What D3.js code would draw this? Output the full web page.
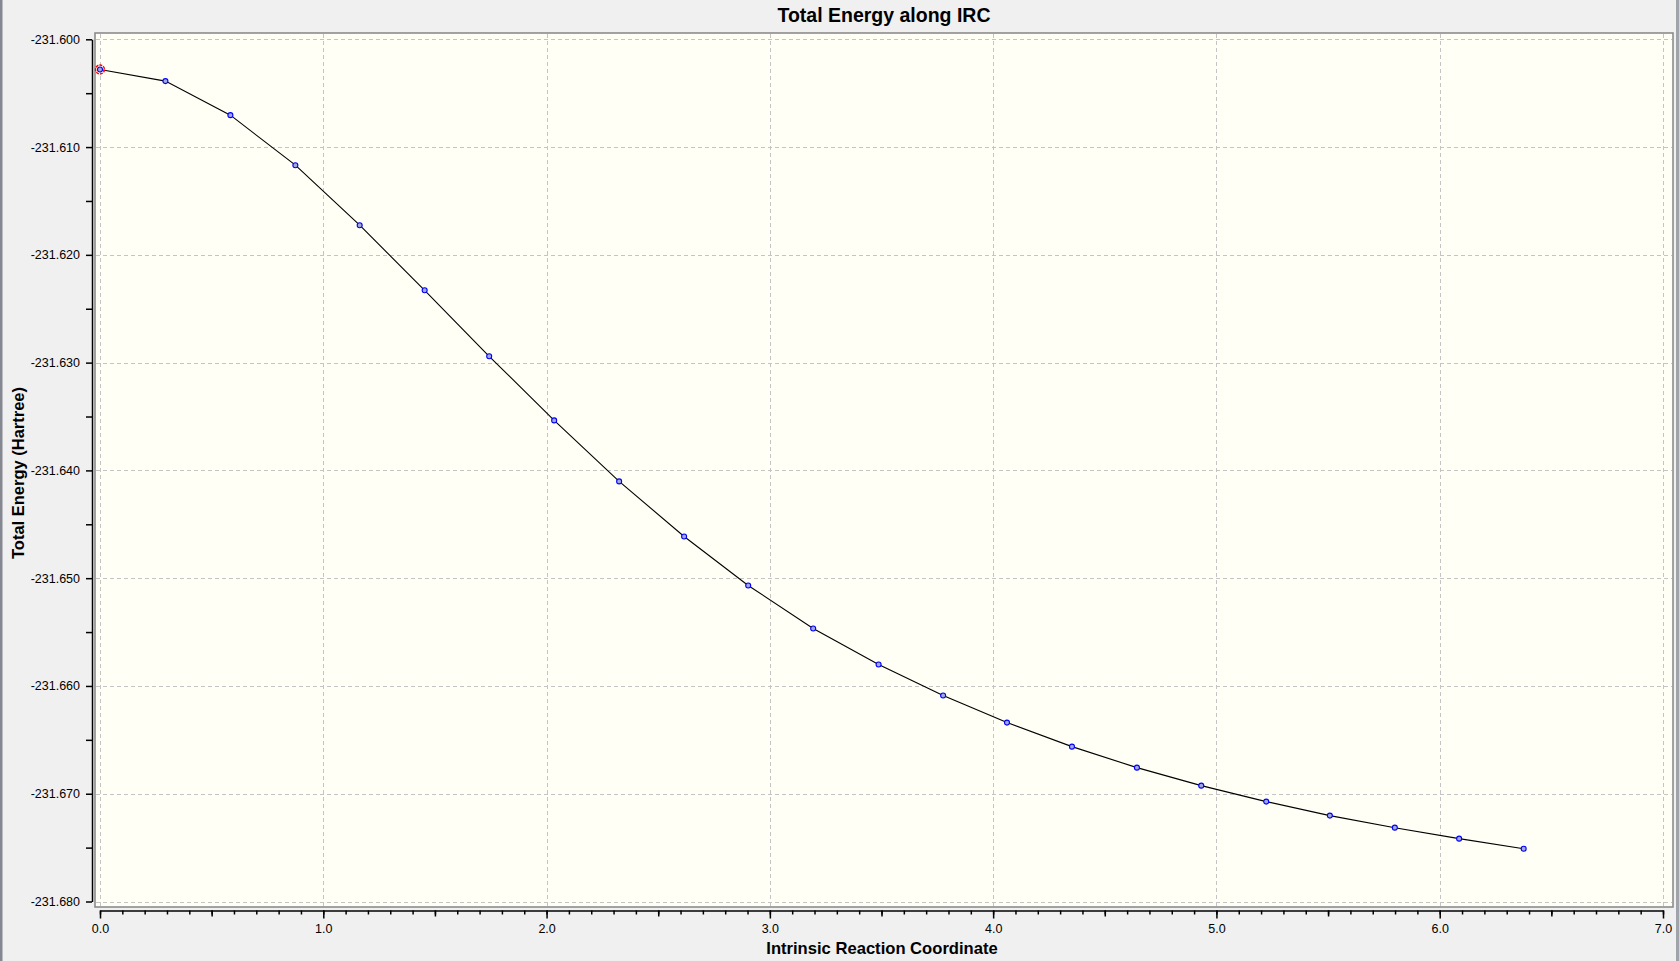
<!DOCTYPE html>
<html>
<head>
<meta charset="utf-8">
<title>Total Energy along IRC</title>
<script src="https://cdn.jsdelivr.net/npm/d3@7"></script>
<style>
  body { margin: 0; background: #f0f0f0; overflow: hidden; }
  svg { display: block; font-family: "Liberation Sans", Arial, sans-serif; }
  .tick text { font-size: 12.5px; fill: #000; }
  .tick line { stroke: #000; }
  .domain { stroke: #000; }
</style>
</head>
<body>
<div id="chart"></div>
<script>
// IRC points
const irc = [0.000, 0.293, 0.584, 0.875, 1.163, 1.454, 1.743, 2.034, 2.325, 2.616, 2.903, 3.194,
  3.487, 3.776, 4.062, 4.353, 4.644, 4.932, 5.223, 5.508, 5.799, 6.087, 6.376];
const energy = [-231.60280, -231.60388, -231.60704, -231.61168, -231.61725, -231.62329, -231.62941,
  -231.63536, -231.64102, -231.64613, -231.65068, -231.65467, -231.65801, -231.66089, -231.66340,
  -231.66563, -231.66758, -231.66925, -231.67073, -231.67203, -231.67315, -231.67417, -231.67510];

const xMajor = [0, 1, 2, 3, 4, 5, 6, 7];
const yMajor = [-231.600, -231.610, -231.620, -231.630, -231.640, -231.650, -231.660, -231.670, -231.680];

const W = 1679, H = 961;

// plot frame and axis positions
const frame = { left: 95, top: 33, right: 1673, bottom: 907 };
const xAxisY = 910.5, yAxisX = 92;

const x = d3.scaleLinear().domain([0, 7]).range([100, 1663]);
const y = d3.scaleLinear().domain([-231.680, -231.600]).range([901.5, 39.3]);

const svg = d3.select('#chart').append('svg')
  .attr('width', W)
  .attr('height', H);

svg.append('rect').attr('width', W).attr('height', H).attr('fill', '#f0f0f0');

// window edges
svg.append('rect').attr('x', 0).attr('y', 0).attr('width', 2.5).attr('height', H).attr('fill', '#858891');
svg.append('rect').attr('x', 1676).attr('y', 0).attr('width', 3).attr('height', H).attr('fill', '#a0a3aa');

// plot background
svg.append('rect')
  .attr('x', frame.left).attr('y', frame.top)
  .attr('width', frame.right - frame.left).attr('height', frame.bottom - frame.top)
  .attr('fill', '#fffff6');

// grid
const grid = svg.append('g')
  .attr('stroke', '#c4c4c4')
  .attr('stroke-width', 1)
  .attr('stroke-dasharray', '4,3');

grid.selectAll('.vg').data(xMajor).enter().append('line')
  .attr('x1', d => Math.round(x(d)) + 0.5).attr('x2', d => Math.round(x(d)) + 0.5)
  .attr('y1', frame.top + 1).attr('y2', frame.bottom - 1);

grid.selectAll('.hg').data(yMajor).enter().append('line')
  .attr('y1', d => Math.round(y(d)) + 0.5).attr('y2', d => Math.round(y(d)) + 0.5)
  .attr('x1', frame.left + 1).attr('x2', frame.right - 1);

// frame border
svg.append('rect')
  .attr('x', frame.left).attr('y', frame.top)
  .attr('width', frame.right - frame.left).attr('height', frame.bottom - frame.top)
  .attr('fill', 'none')
  .attr('stroke', '#8c8c8c')
  .attr('stroke-width', 1.6);

// y axis: labels every 0.010, minor ticks every 0.005
const yTicks = d3.range(0, 17).map(i => -231.680 + i * 0.005);
svg.append('g')
  .attr('transform', `translate(${yAxisX},0)`)
  .call(d3.axisLeft(y)
    .tickValues(yTicks)
    .tickSize(6)
    .tickSizeOuter(0)
    .tickPadding(6)
    .tickFormat((d, i) => i % 2 === 0 ? d3.format('.3f')(d).replace('−', '-') : ''))
  .call(g => g.selectAll('.domain, .tick line').attr('stroke-width', 1.5));

// x axis: minor 0.1, medium 0.5, major 1.0
const xAxisG = svg.append('g').attr('transform', `translate(0,${xAxisY})`);
xAxisG.append('g')
  .call(d3.axisBottom(x).tickValues(d3.range(0, 71).map(i => i / 10)).tickSize(4).tickSizeOuter(0).tickFormat(''));
xAxisG.append('g')
  .call(d3.axisBottom(x).tickValues([0.5, 1.5, 2.5, 3.5, 4.5, 5.5, 6.5]).tickSize(6).tickFormat(''))
  .call(g => g.select('.domain').remove());
xAxisG.append('g')
  .call(d3.axisBottom(x).tickValues(xMajor).tickSize(8).tickPadding(5.3).tickFormat(d3.format('.1f')))
  .call(g => g.select('.domain').remove());
xAxisG.selectAll('.domain, .tick line').attr('stroke-width', 1.5);

// curve
const line = d3.line()
  .x((d, i) => x(irc[i]))
  .y(d => y(d));

svg.append('path')
  .datum(energy)
  .attr('fill', 'none')
  .attr('stroke', '#000')
  .attr('stroke-width', 1.1)
  .attr('d', line);

// current point ring
svg.append('circle')
  .attr('cx', x(irc[0])).attr('cy', y(energy[0]))
  .attr('r', 4.5)
  .attr('fill', 'none')
  .attr('stroke', '#ff0000')
  .attr('stroke-width', 1.4)
  .attr('stroke-dasharray', '3,1');

svg.selectAll('.pt')
  .data(energy)
  .enter().append('circle')
  .attr('class', 'pt')
  .attr('cx', (d, i) => x(irc[i]))
  .attr('cy', d => y(d))
  .attr('r', 2.5)
  .attr('fill', '#a3abd4')
  .attr('stroke', '#0000ff')
  .attr('stroke-width', 1.1);

// titles
svg.append('text')
  .attr('x', 884).attr('y', 21.7)
  .attr('text-anchor', 'middle')
  .style('font-size', '19.5px').style('font-weight', 'bold')
  .text('Total Energy along IRC');

svg.append('text')
  .attr('x', 882).attr('y', 953.5)
  .attr('text-anchor', 'middle')
  .style('font-size', '16.6px').style('font-weight', 'bold')
  .text('Intrinsic Reaction Coordinate');

svg.append('text')
  .attr('transform', 'translate(24,473) rotate(-90)')
  .attr('text-anchor', 'middle')
  .style('font-size', '16.5px').style('font-weight', 'bold')
  .text('Total Energy (Hartree)');
</script>
</body>
</html>
